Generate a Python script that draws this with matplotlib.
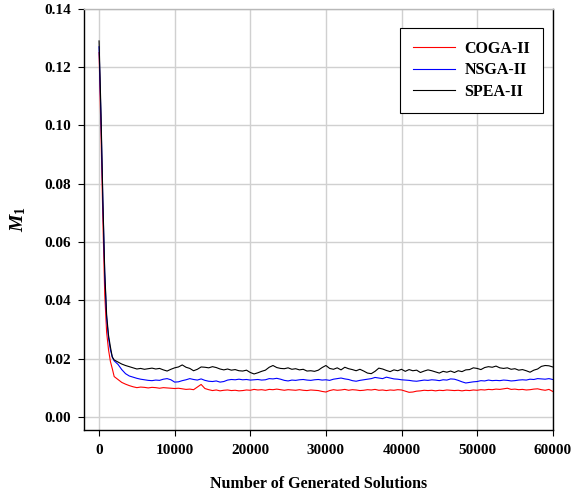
import numpy as np
import matplotlib
matplotlib.use("Agg")
import matplotlib.pyplot as plt

plt.rcParams.update({'font.family': 'serif'})
plt.rcParams.update({'font.serif': ['Liberation Serif', 'DejaVu Serif']})
plt.rcParams.update({'font.weight': 'bold'})
plt.rcParams.update({'axes.labelweight': 'bold'})
plt.rcParams.update({'mathtext.fontset': 'custom'})
plt.rcParams.update({'mathtext.it': 'Liberation Serif:italic:bold'})
plt.rcParams.update({'mathtext.rm': 'Liberation Serif:bold'})

# ---------------- data ----------------
# number of generated solutions: dense sampling during the initial drop,
# then every 500 solutions
x_early = [0, 250, 500, 750, 1000, 1250, 1500, 1750, 2000, 2500, 3000, 3500]
x_steady = list(range(4000, 60001, 500))
solutions = np.array(x_early + x_steady)

coga_early = [0.125, 0.098, 0.068, 0.042, 0.029, 0.023, 0.019, 0.0165,
              0.0138, 0.0128, 0.0118, 0.0112]
coga_steady = [
    0.0107, 0.0103, 0.0100, 0.0102, 0.0101, 0.0099, 0.0101, 0.0100, 0.0098, 0.0100,
    0.0099, 0.0098, 0.0097, 0.0098, 0.0096, 0.0094, 0.0095, 0.0093, 0.0102, 0.0111,
    0.0097, 0.0093, 0.0090, 0.0092, 0.0089, 0.0091, 0.0092, 0.0090, 0.0091, 0.0089,
    0.0090, 0.0092, 0.0091, 0.0094, 0.0092, 0.0093, 0.0091, 0.0094, 0.0093, 0.0095,
    0.0093, 0.0091, 0.0093, 0.0092, 0.0091, 0.0093, 0.0091, 0.0090, 0.0092, 0.0091,
    0.0090, 0.0087, 0.0085, 0.0090, 0.0093, 0.0091, 0.0092, 0.0094, 0.0091, 0.0093,
    0.0092, 0.0090, 0.0091, 0.0093, 0.0092, 0.0094, 0.0091, 0.0092, 0.0090, 0.0092,
    0.0091, 0.0093, 0.0092, 0.0088, 0.0084, 0.0085, 0.0088, 0.0089, 0.0091, 0.0090,
    0.0091, 0.0089, 0.0091, 0.0090, 0.0092, 0.0091, 0.0090, 0.0091, 0.0089, 0.0091,
    0.0090, 0.0092, 0.0091, 0.0093, 0.0092, 0.0094, 0.0093, 0.0095, 0.0094, 0.0096,
    0.0098, 0.0094, 0.0095, 0.0093, 0.0094, 0.0092, 0.0093, 0.0095, 0.0096, 0.0093,
    0.0091, 0.0094, 0.0087]

nsga_early = [0.127, 0.103, 0.074, 0.049, 0.034, 0.027, 0.023, 0.0205,
              0.0192, 0.0180, 0.0162, 0.0148]
nsga_steady = [
    0.0140, 0.0136, 0.0132, 0.0129, 0.0127, 0.0125, 0.0124, 0.0126, 0.0125, 0.0129,
    0.0131, 0.0127, 0.0119, 0.0120, 0.0124, 0.0127, 0.0131, 0.0128, 0.0126, 0.0130,
    0.0125, 0.0122, 0.0121, 0.0123, 0.0119, 0.0121, 0.0126, 0.0128, 0.0127, 0.0129,
    0.0127, 0.0128, 0.0126, 0.0127, 0.0128, 0.0126, 0.0127, 0.0131, 0.0130, 0.0132,
    0.0129, 0.0125, 0.0123, 0.0126, 0.0125, 0.0127, 0.0128, 0.0126, 0.0125, 0.0127,
    0.0128, 0.0126, 0.0127, 0.0125, 0.0129, 0.0131, 0.0133, 0.0130, 0.0128, 0.0124,
    0.0122, 0.0125, 0.0127, 0.0129, 0.0131, 0.0135, 0.0133, 0.0131, 0.0136, 0.0133,
    0.0130, 0.0129, 0.0127, 0.0126, 0.0125, 0.0123, 0.0122, 0.0124, 0.0126, 0.0125,
    0.0127, 0.0126, 0.0124, 0.0127, 0.0126, 0.0130, 0.0129, 0.0125, 0.0120, 0.0116,
    0.0118, 0.0120, 0.0121, 0.0124, 0.0123, 0.0126, 0.0124, 0.0125, 0.0124, 0.0126,
    0.0125, 0.0123, 0.0124, 0.0126, 0.0127, 0.0126, 0.0129, 0.0128, 0.0131, 0.0130,
    0.0129, 0.0131, 0.0128]

spea_early = [0.129, 0.105, 0.075, 0.050, 0.035, 0.028, 0.024, 0.0205,
              0.0195, 0.0188, 0.0181, 0.0176]
spea_steady = [
    0.0172, 0.0168, 0.0164, 0.0166, 0.0163, 0.0165, 0.0167, 0.0164, 0.0166, 0.0161,
    0.0157, 0.0163, 0.0168, 0.0171, 0.0178, 0.0170, 0.0166, 0.0158, 0.0163, 0.0171,
    0.0170, 0.0168, 0.0172, 0.0169, 0.0164, 0.0161, 0.0164, 0.0160, 0.0162, 0.0158,
    0.0157, 0.0160, 0.0152, 0.0147, 0.0151, 0.0156, 0.0160, 0.0170, 0.0176, 0.0169,
    0.0166, 0.0165, 0.0168, 0.0163, 0.0165, 0.0161, 0.0163, 0.0157, 0.0158, 0.0156,
    0.0160, 0.0169, 0.0176, 0.0166, 0.0163, 0.0168, 0.0161, 0.0170, 0.0165, 0.0162,
    0.0158, 0.0163, 0.0157, 0.0150, 0.0148, 0.0156, 0.0167, 0.0164, 0.0159, 0.0155,
    0.0161, 0.0158, 0.0163, 0.0156, 0.0162, 0.0158, 0.0160, 0.0152, 0.0157, 0.0161,
    0.0158, 0.0154, 0.0150, 0.0156, 0.0153, 0.0157, 0.0152, 0.0158, 0.0155, 0.0161,
    0.0162, 0.0168, 0.0166, 0.0162, 0.0169, 0.0172, 0.0170, 0.0174, 0.0168, 0.0166,
    0.0168, 0.0163, 0.0165, 0.0160, 0.0162, 0.0158, 0.0153, 0.0160, 0.0164, 0.0173,
    0.0176, 0.0175, 0.0171]

coga = np.array(coga_early + coga_steady)
nsga = np.array(nsga_early + nsga_steady)
spea = np.array(spea_early + spea_steady)
assert len(coga) == len(nsga) == len(spea) == len(solutions)

x_ticks = [0, 10000, 20000, 30000, 40000, 50000, 60000]
y_ticks = [0.00, 0.02, 0.04, 0.06, 0.08, 0.10, 0.12, 0.14]

# ---------------- plot ----------------
fig = plt.figure(figsize=(5.71, 4.93), dpi=100)
ax = fig.add_axes([0.147, 0.128, 0.821, 0.854])

ax.plot(solutions, coga, color='red', lw=0.8, label='COGA-II')
ax.plot(solutions, nsga, color='blue', lw=0.8, label='NSGA-II')
ax.plot(solutions, spea, color='black', lw=0.8, label='SPEA-II')

ax.set_xlim(-2000, 60000)
ax.set_ylim(-0.0045, 0.14)
ax.set_xticks(x_ticks)
ax.set_yticks(y_ticks)
ax.set_xticklabels([str(t) for t in x_ticks])
ax.set_yticklabels([f"{t:.2f}" for t in y_ticks])
ax.tick_params(direction='out', length=4, width=0.8, labelsize=11)
ax.tick_params(axis='y', pad=5)
ax.tick_params(axis='x', pad=6)
ax.grid(True, color='#d0d0d0', lw=1.0)
ax.set_axisbelow(True)

for s in ['left', 'bottom', 'right']:
    ax.spines[s].set_color('black')
    ax.spines[s].set_linewidth(1.0)
ax.spines['top'].set_color('#b8b8b8')
ax.spines['top'].set_linewidth(1.0)

ax.set_xlabel('Number of Generated Solutions', fontsize=11.5, labelpad=14)
ax.set_ylabel(r'$M_1$', fontsize=14, labelpad=12)

leg = ax.legend(loc='upper right', bbox_to_anchor=(0.979, 0.955),
                borderaxespad=0, fancybox=False, fontsize=11.5,
                handlelength=2.6, handletextpad=0.6, labelspacing=0.35,
                borderpad=0.8, framealpha=1)
leg.get_frame().set_edgecolor('black')
leg.get_frame().set_linewidth(0.8)

fig.savefig('out.png', dpi=100)
